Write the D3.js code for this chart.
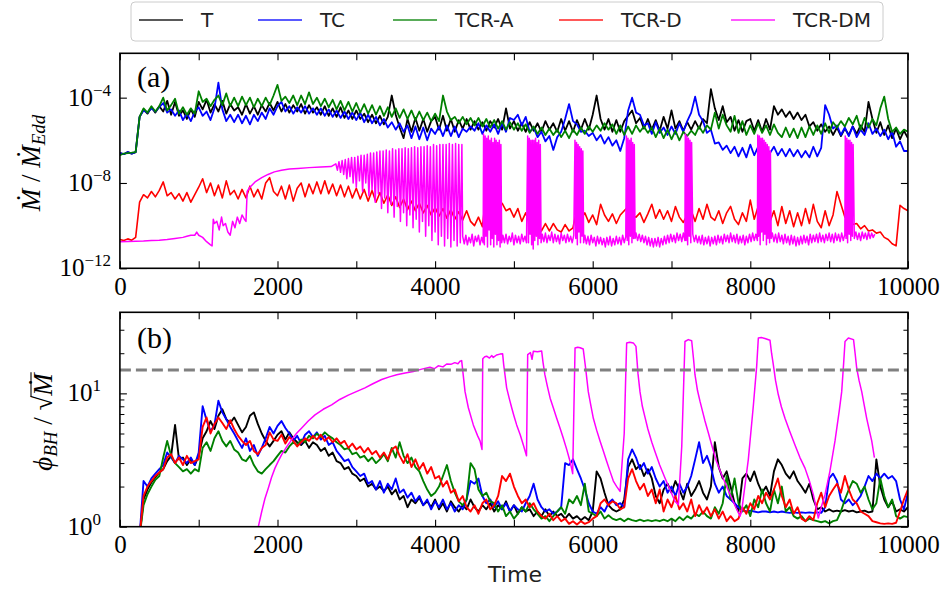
<!DOCTYPE html>
<html>
<head>
<meta charset="utf-8">
<script src="https://cdn.jsdelivr.net/npm/d3@7"></script>
<style>
  body { margin: 0; background: #fff; }
</style>
</head>
<body>
<div id="chart"></div>
<script>
// ---------------- data ----------------
// series names / colours
var names  = ["T", "TC", "TCR-A", "TCR-D", "TCR-DM"];
var colors = ["#000000", "#0000ff", "#008000", "#ff0000", "#ff00ff"];

// sampling step of the uniform series (time units)
var step = 50;

// panel (a): log10 of Mdot/Mdot_Edd, one value every 50 time units, t = 0..10000
var mdotT = [
 -6.6,-6.65,-6.55,-6.62,-6.55,-4.9,-4.55,-4.75,-4.45,-4.7,
 -4.4,-4.65,-4.15,-4.8,-4.2,-4.85,-4.6,-5.0,-4.55,-4.9,
 -4.2,-4.55,-4.1,-4.7,-4.3,-4.65,-4.15,-4.75,-4.3,-4.6,
 -4.45,-4.8,-4.3,-4.75,-4.4,-4.8,-4.35,-4.65,-4.25,-4.6,
 -4.2,-4.65,-4.3,-4.7,-4.35,-4.65,-4.3,-4.75,-4.35,-4.7,
 -4.45,-4.8,-4.4,-4.85,-4.5,-4.9,-4.45,-4.95,-4.6,-5.0,
 -4.6,-5.0,-4.75,-5.15,-4.8,-5.2,-4.85,-5.25,-4.9,-3.9,
 -4.8,-5.4,-5.9,-5.0,-5.6,-4.95,-5.55,-5.0,-5.6,-5.1,
 -4.9,-5.5,-4.85,-5.55,-5.0,-5.6,-5.05,-5.45,-5.0,-5.5,
 -5.1,-5.5,-5.15,-5.55,-5.1,-5.4,-5.0,-5.5,-4.5,-5.45,
 -5.1,-5.55,-5.2,-5.6,-5.15,-5.55,-5.2,-5.6,-5.1,-5.5,
 -5.2,-5.6,-5.0,-5.55,-5.1,-5.6,-5.05,-5.5,-5.0,-5.5,
 -4.8,-3.9,-5.0,-5.5,-5.0,-5.6,-5.05,-5.6,-5.1,-4.85,
 -4.6,-5.2,-4.95,-5.45,-5.0,-5.5,-5.05,-5.55,-4.9,-5.45,
 -4.6,-5.45,-5.1,-5.55,-5.15,-5.5,-5.1,-5.45,-5.0,-5.2,
 -3.6,-4.5,-5.05,-4.4,-5.15,-4.9,-5.55,-5.05,-5.6,-5.1,
 -5.0,-5.55,-5.05,-5.6,-5.0,-5.5,-4.4,-4.8,-4.55,-4.9,
 -4.65,-5.0,-4.7,-5.05,-4.8,-5.35,-5.15,-5.55,-5.25,-5.6,
 -5.35,-5.75,-5.4,-5.8,-5.45,-5.75,-5.35,-5.7,-5.3,-5.6,
 -4.2,-5.0,-5.65,-5.15,-5.75,-5.3,-5.9,-5.45,-5.95,-5.55,
 -5.9];
var mdotTC = [
 -6.6,-6.65,-6.55,-6.62,-6.55,-4.9,-4.6,-4.7,-4.5,-4.65,
 -4.45,-4.25,-4.7,-4.55,-4.85,-4.6,-5.05,-4.75,-5.1,-4.65,
 -4.45,-4.85,-4.65,-5.05,-4.5,-3.3,-4.55,-5.1,-4.8,-5.15,
 -4.8,-5.2,-4.85,-5.25,-4.8,-5.1,-4.7,-5.0,-4.5,-4.8,
 -4.4,-4.2,-4.65,-4.4,-4.75,-4.45,-4.7,-4.4,-4.75,-4.5,
 -4.8,-4.5,-4.85,-4.55,-4.9,-4.6,-4.95,-4.65,-5.0,-4.7,
 -5.05,-4.7,-5.15,-4.8,-5.2,-4.9,-5.3,-5.0,-5.4,-5.15,
 -5.5,-5.2,-5.6,-5.3,-5.9,-5.35,-5.95,-5.4,-6.0,-5.45,
 -5.7,-5.35,-5.8,-5.3,-5.8,-5.35,-5.85,-5.45,-5.6,-5.35,
 -5.55,-5.2,-5.7,-5.3,-5.6,-5.25,-5.7,-5.2,-5.6,-4.95,
 -5.05,-4.8,-5.3,-4.9,-5.6,-5.4,-5.85,-5.6,-6.05,-5.8,
 -6.45,-5.85,-5.6,-5.0,-4.3,-5.1,-5.25,-5.6,-5.55,-5.8,
 -5.65,-6.0,-5.75,-6.15,-5.85,-6.25,-6.0,-6.5,-5.9,-4.6,
 -4.0,-4.7,-4.8,-5.3,-5.2,-5.7,-5.15,-5.65,-5.4,-5.75,
 -5.35,-5.7,-5.2,-5.6,-5.1,-4.7,-3.95,-4.8,-5.1,-5.65,
 -5.5,-6.15,-6.1,-6.45,-6.25,-6.6,-6.3,-6.75,-6.35,-6.8,
 -6.2,-6.7,-6.3,-6.8,-6.35,-6.6,-6.3,-6.7,-6.4,-6.75,
 -6.4,-6.75,-6.45,-6.8,-6.5,-6.8,-6.3,-6.75,-6.35,-4.35,
 -4.8,-5.45,-5.3,-5.75,-5.4,-5.8,-5.35,-5.85,-5.5,-5.75,
 -5.2,-5.7,-5.45,-5.8,-5.5,-5.95,-5.6,-6.3,-6.05,-6.5,
 -6.5];
var mdotTCRA = [
 -6.7,-6.62,-6.6,-6.58,-6.55,-4.9,-4.5,-4.7,-4.4,-4.65,
 -4.4,-4.0,-4.6,-4.35,-4.05,-4.75,-4.45,-4.8,-4.5,-4.75,
 -3.7,-4.2,-4.05,-4.4,-4.1,-3.9,-4.35,-3.8,-4.4,-4.0,
 -4.4,-3.95,-4.35,-4.0,-4.45,-4.05,-4.4,-4.0,-4.35,-3.9,
 -3.4,-4.15,-3.95,-4.25,-3.9,-4.35,-3.9,-4.3,-3.75,-4.3,
 -4.0,-4.4,-4.05,-4.45,-4.1,-4.55,-4.15,-4.6,-4.2,-4.65,
 -4.25,-4.7,-4.3,-4.75,-4.35,-4.8,-4.4,-4.85,-4.45,-4.9,
 -4.5,-4.95,-4.55,-5.0,-4.6,-5.05,-4.65,-5.05,-4.7,-5.1,
 -4.75,-5.1,-3.9,-4.65,-5.05,-4.9,-5.2,-4.9,-5.25,-4.95,
 -5.3,-4.95,-5.35,-5.0,-5.4,-5.05,-5.45,-5.1,-5.5,-5.15,
 -5.5,-5.2,-5.55,-5.25,-5.65,-5.35,-5.7,-5.4,-5.75,-5.45,
 -5.75,-5.5,-5.85,-5.55,-5.9,-5.5,-5.75,-5.4,-5.7,-5.35,
 -5.6,-5.3,-5.55,-5.2,-5.5,-5.25,-5.7,-5.3,-5.75,-5.35,
 -5.7,-5.3,-5.6,-5.35,-5.65,-5.4,-5.85,-5.45,-5.9,-5.5,
 -5.95,-5.55,-6.0,-5.6,-5.8,-5.55,-5.75,-5.35,-5.65,-5.3,
 -5.5,-4.7,-5.45,-4.8,-5.3,-5.6,-4.85,-5.65,-5.1,-5.75,
 -5.3,-5.7,-5.2,-5.65,-5.3,-5.75,-5.25,-5.65,-5.85,-5.4,
 -5.85,-5.45,-5.9,-5.4,-5.85,-5.35,-5.75,-5.3,-5.7,-5.2,
 -5.65,-5.15,-5.4,-5.1,-5.35,-4.95,-5.25,-4.85,-5.5,-4.95,
 -5.4,-5.0,-5.3,-4.5,-3.95,-5.0,-5.6,-5.4,-5.7,-5.5,
 -5.6];
var mdotTCRD = [
 -10.65,-10.7,-10.62,-10.68,-10.55,-8.9,-8.55,-8.7,-8.4,-8.65,
 -8.35,-7.95,-8.6,-8.45,-8.75,-8.5,-8.85,-8.45,-8.9,-8.55,
 -8.2,-7.8,-8.45,-8.0,-8.6,-8.1,-8.7,-7.9,-8.55,-8.35,
 -8.75,-8.3,-8.7,-8.15,-8.65,-8.3,-8.75,-8.0,-7.75,-8.4,
 -8.6,-8.15,-8.75,-8.1,-8.85,-8.25,-8.0,-8.65,-8.05,-8.5,
 -7.95,-8.5,-7.9,-8.5,-8.05,-8.6,-8.1,-8.65,-8.15,-8.7,
 -8.25,-8.75,-8.3,-8.85,-8.35,-8.9,-8.45,-8.95,-8.55,-9.05,
 -8.65,-9.15,-8.75,-9.25,-8.85,-9.3,-8.95,-9.4,-9.05,-9.5,
 -9.15,-9.55,-9.2,-9.65,-9.25,-9.7,-9.35,-9.75,-9.3,-9.8,
 -10.0,-9.6,-10.05,-8.45,-8.95,-8.8,-9.1,-8.95,-9.3,-9.2,
 -9.6,-9.2,-9.8,-9.4,-9.95,-10.15,-9.8,-10.25,-9.9,-10.25,
 -9.9,-10.2,-10.3,-9.95,-10.25,-10.1,-9.2,-9.7,-9.4,-9.85,
 -9.5,-9.95,-9.0,-9.5,-9.8,-9.45,-9.9,-9.5,-9.3,-9.1,
 -9.55,-9.6,-9.4,-9.85,-9.45,-9.0,-9.65,-9.25,-9.7,-9.3,
 -9.8,-9.1,-9.6,-9.85,-9.5,-9.3,-9.8,-9.2,-9.7,-9.0,
 -9.6,-9.75,-9.3,-9.9,-9.4,-9.1,-9.7,-9.95,-9.4,-9.8,
 -8.8,-9.7,-9.1,-9.9,-9.2,-9.8,-9.3,-10.0,-9.1,-9.9,
 -9.3,-10.05,-9.4,-10.0,-9.2,-9.9,-9.0,-9.8,-10.1,-9.3,
 -10.0,-9.5,-8.4,-9.0,-9.6,-9.65,-9.95,-9.9,-10.15,-10.0,
 -10.25,-10.2,-10.35,-10.3,-10.55,-10.65,-10.85,-10.95,-9.05,-9.2,
 -9.3];
// TCR-DM, panel (a), slow early part: [time, log10 Mdot]
var mdotTCRDMearly = [
 [0,-10.75],[100,-10.74],[200,-10.73],[300,-10.72],[400,-10.7],[500,-10.68],[600,-10.65],
 [700,-10.6],[800,-10.55],[850,-10.5],[900,-10.45],[950,-10.45],[975,-10.3],[1000,-10.45],
 [1050,-10.55],[1100,-10.75],[1150,-10.9],[1170,-10.95],[1185,-9.7],[1200,-9.9],[1230,-9.8],
 [1260,-10.2],[1290,-9.6],[1310,-10.0],[1340,-9.9],[1370,-10.3],[1400,-10.45],[1430,-9.8],
 [1460,-10.1],[1490,-9.6],[1520,-9.9],[1550,-9.5],[1580,-9.7],[1600,-9.8],[1615,-8.4],
 [1650,-8.2],[1715,-7.95],[1800,-7.75],[1880,-7.6],[1960,-7.48],[2050,-7.4],[2150,-7.35],
 [2260,-7.32],[2400,-7.28],[2550,-7.25],[2680,-7.23]];
// TCR-DM, panel (a), fast part: pieces of [start time, time step, log10 values]
var mdotTCRDMpieces = [
 [2740, 20, [
  -7.1,-7.4,-7.0,-7.5,-6.95,-7.6,-6.9,-7.8,-6.85,-7.7,
  -6.8,-8.0,-6.8,-8.2,-6.75,-7.9,-6.7,-8.4,-6.7,-8.0,
  -6.65,-8.6,-6.6,-8.3,-6.6,-8.9,-6.55,-8.5,-6.5,-9.2,
  -6.5,-8.7,-6.45,-9.4,-6.5,-9.0,-6.4,-9.6,-6.45,-9.1,
  -6.4,-9.8,-6.4,-9.4,-6.35,-10.0,-6.4,-9.5,-6.35,-10.1,
  -6.3,-9.7,-6.35,-10.3,-6.3,-9.8,-6.3,-10.5,-6.25,-10.0,
  -6.3,-10.7,-6.2,-10.3,-6.25,-10.9,-6.2,-10.5,-6.2,-10.95,
  -6.2,-10.6,-6.15,-11.0,-6.2,-10.7,-6.15,-10.95,-6.2,-10.8,
  -6.2]],
 [4350, 20, [-10.5,-10.85,-10.45,-10.9,-10.55,-10.8,-10.4,-10.95,-10.5,-10.75,-10.45,-10.9,-10.55,-10.8]],
 [4615, 10, [-5.7,-10.9,-5.8,-10.5,-5.9,-11.0,-5.8,-10.2,-6.0,-10.9,-5.9,-10.6,-6.1,-11.0,-5.9,-10.4,
             -6.0,-10.9,-6.1,-10.7,-6.0,-11.0,-6.2,-10.8]],
 [4860, 20, [-10.45,-10.8,-10.4,-10.85,-10.5,-10.75,-10.35,-10.9,-10.45,-10.8,-10.5,-10.85,-10.4,-10.75,
             -10.5,-10.8]],
 [5175, 10, [-5.8,-10.8,-5.9,-10.4,-6.0,-10.9,-6.0,-11.1,-6.0,-10.7,-5.9,-10.5,-6.1,-10.9,-6.0,-10.6,
             -6.2,-10.8]],
 [5360, 20, [-10.4,-10.75,-10.35,-10.8,-10.45,-10.7,-10.3,-10.8,-10.4,-10.75,-10.45,-10.85,-10.35,-10.7,
             -10.45,-10.8,-10.4,-10.75,-10.5,-10.8,-10.45]],
 [5775, 10, [-6.0,-10.6,-6.1,-10.9,-6.2,-10.3,-6.3,-10.8,-6.4,-10.5,-6.5,-10.8]],
 [5900, 20, [-10.45,-10.85,-10.5,-10.9,-10.45,-10.8,-10.55,-10.95,-10.5,-10.85,-10.55,-10.9,-10.6,-11.0,
             -10.55,-10.9,-10.5,-10.95,-10.6,-10.9,-10.5,-10.85,-10.55,-10.9,-10.45,-10.8,-10.5]],
 [6428, 10, [-5.8,-10.7,-5.9,-10.9,-6.0,-10.5,-5.9,-10.8,-6.1,-10.6,-6.2,-10.6]],
 [6550, 20, [-10.35,-10.7,-10.4,-10.75,-10.45,-10.8,-10.5,-10.9,-10.55,-10.95,-10.6,-11.0,-10.6,-10.95,
             -10.55,-11.0,-10.6,-10.9,-10.5,-10.85,-10.45,-10.8,-10.4,-10.75,-10.45,-10.8,-10.35,-10.7,
             -10.4,-10.75,-10.35,-10.7]],
 [7175, 10, [-5.7,-10.7,-5.8,-10.9,-5.9,-10.5,-6.0,-10.8,-6.1]],
 [7270, 20, [-10.4,-10.75,-10.45,-10.8,-10.5,-10.85,-10.45,-10.9,-10.55,-10.85,-10.5,-10.95,-10.55,-10.85,
             -10.5,-10.9,-10.45,-10.8,-10.5,-10.85,-10.4,-10.75,-10.45,-10.8,-10.35,-10.75,-10.45,-10.8,
             -10.4,-10.85,-10.5,-10.8,-10.45,-10.9,-10.5,-10.8,-10.4,-10.75,-10.35,-10.7,-10.4,-10.7]],
 [8095, 10, [-5.75,-10.5,-5.8,-10.9,-5.9,-10.3,-5.9,-10.7,-6.0,-10.4,-6.1,-10.9,-6.2,-10.6,-6.3,-10.8,
             -6.5,-10.6]],
 [8280, 20, [-10.35,-10.75,-10.4,-10.8,-10.35,-10.75,-10.45,-10.85,-10.4,-10.8,
             -10.5,-10.9,-10.45,-10.85,-10.5,-10.95,-10.55,-10.9,-10.5,-10.85,
             -10.45,-10.8,-10.5,-10.9,-10.4,-10.8,-10.45,-10.75,-10.4,-10.8,
             -10.35,-10.75,-10.45,-10.8,-10.4,-10.7,-10.35,-10.75,-10.4,-10.8,
             -10.35,-10.7,-10.4,-10.75,-10.35,-10.7,-10.4]],
 [9205, 10, [-5.8,-10.6,-5.9,-10.8,-6.0,-10.4,-6.0,-10.7,-6.1,-10.5,-6.2]],
 [9320, 20, [-10.6,-10.3,-10.65,-10.35,-10.7,-10.3,-10.6,-10.35,-10.65,-10.3,-10.6,-10.35,-10.55,-10.4]]
];

// panel (b): phi_BH / sqrt(Mdot), one value every 50 time units, t = 0..10000
var phiT = [
 0.5,0.5,0.5,0.5,0.5,0.85,1.6,1.9,2.15,2.35,
 2.55,2.7,3.1,3.4,5.8,3.2,3.3,2.9,3.2,2.9,
 3.4,4.6,5.2,6.2,5.4,6.8,7.6,6.4,6.0,6.6,
 5.8,5.1,5.6,6.8,7.2,5.9,5.0,4.4,4.0,4.4,
 4.9,5.2,4.5,5.1,4.6,4.3,4.1,4.4,3.9,4.3,
 4.1,3.7,3.9,3.4,3.6,3.1,3.0,2.7,2.8,2.5,
 2.4,2.2,2.3,2.0,2.1,1.9,2.0,1.85,2.0,1.75,
 1.9,1.6,1.7,1.4,1.6,1.5,1.65,1.45,1.55,1.4,
 1.6,1.35,1.5,1.3,1.55,1.4,1.3,1.45,1.35,1.6,
 1.4,1.3,1.45,1.35,1.5,1.3,1.45,1.35,1.55,1.3,
 1.45,1.25,1.4,1.3,1.35,1.2,1.3,1.2,1.35,1.2,
 1.3,1.2,1.25,1.15,1.25,1.15,1.2,1.12,1.18,1.12,
 1.3,2.6,2.3,1.8,1.45,1.35,1.3,1.35,1.6,2.8,
 3.2,2.7,2.9,2.4,2.7,2.3,1.7,1.5,1.9,2.1,
 1.8,2.2,1.9,1.6,2.1,1.7,1.9,2.2,1.8,1.6,
 2.0,4.3,2.8,2.3,2.6,2.0,1.5,1.3,2.3,2.5,
 2.2,2.6,2.1,1.8,2.0,1.7,2.6,3.2,2.9,2.5,
 2.3,2.6,2.2,2.0,1.8,2.1,1.6,1.35,1.4,1.3,
 1.35,1.3,1.32,1.3,1.33,1.3,1.32,1.28,1.3,1.32,
 1.28,1.3,3.2,2.0,1.6,1.4,1.55,1.3,1.35,1.3,
 1.4];
var phiTC = [
 0.5,0.5,0.5,0.5,0.5,0.85,2.2,2.0,2.3,2.5,
 2.7,2.9,3.6,3.3,3.0,3.4,3.2,3.0,3.3,2.9,
 3.6,8.0,6.3,5.2,5.8,8.8,7.2,6.4,5.6,5.0,
 4.4,3.9,4.6,3.7,4.1,3.4,3.9,4.6,5.6,5.0,
 5.7,6.2,5.5,5.0,4.4,4.8,4.2,4.9,5.2,4.7,
 5.1,4.5,4.8,4.1,4.3,3.7,3.4,3.1,3.2,2.8,
 2.6,2.4,2.5,2.1,2.2,1.9,2.2,1.8,2.1,1.9,
 2.3,1.8,1.9,1.65,1.8,1.55,1.7,1.45,1.6,1.35,
 1.55,1.4,1.6,1.35,1.5,1.3,1.45,1.35,1.6,2.2,
 2.1,2.3,1.7,1.5,1.6,1.4,1.55,1.35,1.5,1.3,
 1.45,1.35,1.3,1.5,1.7,2.1,1.6,1.4,1.3,1.35,
 1.25,1.3,1.4,3.0,2.9,3.2,2.7,2.3,1.9,1.5,
 1.3,1.25,1.4,1.3,1.5,1.6,1.45,1.5,1.4,3.2,
 3.8,3.3,2.7,3.0,2.5,2.8,2.3,2.0,2.2,1.8,
 2.0,1.7,2.1,1.8,2.0,2.4,3.2,4.3,3.0,3.4,
 2.8,2.1,1.8,2.0,1.7,1.6,1.5,1.4,1.33,1.3,
 1.32,1.3,1.28,1.3,1.3,1.28,1.3,1.28,1.3,1.28,
 1.27,1.28,1.27,1.28,1.27,1.28,1.27,1.28,1.27,1.4,
 2.3,2.5,2.2,1.6,1.5,1.6,1.45,1.55,1.7,2.0,
 2.4,2.2,2.5,2.3,2.5,2.3,2.4,2.2,1.6,1.35,
 1.8];
var phiTCRA = [
 0.5,0.5,0.5,0.5,0.5,0.85,1.45,1.75,2.0,2.25,
 2.4,3.3,4.4,3.4,3.0,2.8,2.6,2.7,2.5,2.7,
 2.6,3.9,4.3,3.7,4.6,5.2,4.4,4.0,4.4,3.8,
 3.6,3.2,3.1,3.4,2.9,2.6,2.5,2.7,2.9,3.1,
 3.4,3.7,3.6,4.0,4.3,4.1,4.5,4.3,4.8,4.6,
 5.0,4.7,5.1,4.8,4.6,4.3,4.1,3.8,3.9,3.5,
 3.6,3.3,3.4,3.1,3.3,3.0,3.2,3.5,3.1,3.9,
 3.3,4.3,3.4,3.0,3.3,2.8,2.6,2.2,1.9,1.7,
 1.8,2.0,2.4,2.9,2.2,1.8,1.55,1.45,1.6,3.0,
 2.7,1.9,1.7,1.8,1.55,1.5,1.3,1.45,1.2,1.3,
 1.15,1.25,1.4,1.3,1.5,1.35,1.25,1.15,1.2,1.1,
 1.2,1.3,1.4,1.25,1.6,1.5,1.7,1.45,2.1,1.3,
 1.25,1.2,1.3,1.15,1.22,1.15,1.12,1.15,1.1,1.15,
 1.12,1.1,1.13,1.1,1.12,1.1,1.12,1.1,1.13,1.1,
 1.15,1.1,1.18,1.12,1.2,1.15,1.25,1.2,1.3,1.2,
 1.15,1.4,1.25,1.5,2.4,1.6,2.3,1.5,1.3,1.45,
 1.2,1.6,1.4,1.9,1.5,1.3,1.9,1.5,2.0,1.3,
 1.4,1.2,1.15,1.2,1.1,1.15,1.12,1.1,1.08,1.1,
 1.06,1.1,1.12,1.3,1.6,1.9,2.2,2.1,1.8,2.0,
 1.6,1.35,1.5,2.3,1.7,1.4,1.6,1.2,1.15,1.2,
 1.18];
var phiTCRD = [
 0.5,0.5,0.5,0.5,0.5,0.85,1.7,2.0,2.2,2.4,
 2.55,2.7,3.3,3.5,3.0,3.3,2.9,3.4,3.0,3.1,
 3.2,5.6,6.6,5.0,5.9,6.6,6.0,5.4,6.3,5.4,
 4.8,4.4,4.1,4.4,3.7,3.5,3.9,4.1,5.1,4.5,
 4.4,4.9,4.2,4.7,4.4,4.0,4.3,4.6,4.4,4.8,
 4.5,4.9,4.4,4.7,4.3,4.6,4.2,4.4,3.9,4.2,
 3.8,4.0,3.6,3.9,3.5,3.7,3.3,3.6,3.2,3.8,
 4.0,3.4,3.0,3.5,2.8,3.2,2.7,3.0,2.5,2.8,
 2.3,2.4,2.0,2.2,1.8,1.9,1.55,1.7,1.4,1.3,
 1.45,1.25,1.5,1.6,1.35,1.45,1.7,2.4,2.2,2.5,
 2.0,1.7,1.5,1.6,1.4,1.5,1.3,1.2,1.15,1.25,
 1.12,1.2,1.1,1.15,1.05,1.1,1.04,1.1,1.05,1.08,
 1.15,1.2,1.5,1.6,1.45,1.55,1.5,1.35,1.4,2.3,
 2.7,2.2,1.9,2.1,1.7,1.9,1.5,1.9,1.3,1.6,
 1.4,1.7,1.35,1.5,1.3,1.6,1.2,1.45,1.25,1.4,
 1.2,1.35,1.15,1.3,1.1,1.2,1.1,1.15,1.4,1.25,
 1.5,1.35,1.7,1.5,1.8,1.6,1.9,2.3,1.7,1.4,
 1.6,1.25,1.4,1.15,1.1,1.2,1.12,1.5,1.8,1.4,
 1.7,1.9,2.1,1.8,2.4,1.9,1.6,1.5,1.3,1.25,
 1.2,1.1,1.08,1.06,1.05,1.06,1.05,1.07,1.3,1.6,
 1.9];
// TCR-DM, panel (b): [time, phi]
var phiTCRDM = [
 [1757,1.0],[1800,1.3],[1840,1.62],[1884,1.95],[1925,2.35],[1968,2.75],[2010,3.1],[2053,3.47],
 [2120,4.0],[2180,4.5],[2240,5.0],[2307,5.5],[2390,6.2],[2476,6.9],[2580,7.6],[2687,8.2],
 [2790,9.0],[2899,9.7],[3000,10.3],[3110,11.0],[3210,11.8],[3322,12.7],[3420,13.3],[3513,13.8],
 [3620,14.2],[3724,14.6],[3830,15.2],[3935,15.7],[3990,15.3],[4040,16.1],[4100,15.8],[4147,16.6],
 [4200,16.5],[4250,17.0],[4290,16.7],[4316,17.4],[4337,17.6],[4380,10.3],[4422,7.8],[4485,5.8],
 [4540,4.8],[4570,4.4],[4595,3.8],[4605,18.2],[4630,18.8],[4654,19.0],[4690,18.4],[4720,19.2],
 [4738,18.6],[4780,19.4],[4823,19.7],[4857,19.8],[4870,16.5],[4908,11.0],[4940,9.2],[4972,7.8],
 [5000,6.8],[5035,5.8],[5080,4.9],[5120,4.1],[5160,3.4],[5175,19.5],[5210,20.2],[5230,18.0],
 [5247,20.7],[5300,20.5],[5352,20.8],[5370,17.0],[5393,13.8],[5425,11.3],[5460,9.2],[5500,7.8],
 [5543,6.5],[5585,5.5],[5627,4.6],[5670,3.8],[5712,3.1],[5746,2.5],[5776,21.9],[5810,22.2],
 [5840,22.0],[5880,21.5],[5910,15.5],[5944,10.3],[5975,8.2],[6008,6.5],[6050,5.3],[6093,4.4],
 [6135,3.7],[6177,3.1],[6220,2.6],[6262,2.2],[6305,2.0],[6347,1.84],[6400,5.0],[6420,14.0],
 [6431,23.9],[6470,24.2],[6515,23.9],[6549,22.5],[6575,14.0],[6600,10.3],[6630,8.0],[6664,6.6],
 [6700,5.4],[6750,4.3],[6790,3.67],[6850,2.9],[6917,2.32],[6980,1.9],[7044,1.55],[7087,1.46],
 [7130,4.0],[7155,12.0],[7171,24.5],[7213,25.3],[7256,24.8],[7280,18.0],[7298,13.8],[7330,10.5],
 [7362,8.7],[7395,7.3],[7425,6.2],[7470,5.0],[7510,4.1],[7570,3.1],[7637,2.45],[7700,2.0],
 [7763,1.64],[7820,1.38],[7869,1.2],[7890,1.3],[7975,3.2],[8038,8.0],[8081,16.0],[8102,26.0],
 [8140,26.2],[8186,25.8],[8250,25.0],[8270,20.0],[8292,16.4],[8320,12.5],[8355,9.8],[8395,7.9],
 [8440,6.5],[8500,5.2],[8567,4.1],[8630,3.3],[8694,2.75],[8750,2.2],[8800,1.74],[8835,1.4],
 [8863,1.16],[8900,1.4],[8948,1.74],[9010,2.6],[9075,4.4],[9130,7.5],[9160,10.3],[9185,17.0],
 [9202,24.5],[9245,26.0],[9310,25.3],[9330,20.0],[9350,15.5],[9380,12.5],[9414,10.3],[9445,8.2],
 [9477,6.5],[9510,5.3],[9541,4.4],[9575,3.3]];

// reference level in panel (b)
var phiRef = 15;

// ticks
var timeTicks = [0,1000,2000,3000,4000,5000,6000,7000,8000,9000,10000];
var mdotTicks = [1e-12, 1e-8, 1e-4];
var phiMajor = [1, 10];
var phiMinor = [2,3,4,5,6,7,8,9,20,30];

// ---------------- drawing ----------------
var SERIF = "Liberation Serif";
var SANS = "DejaVu Sans";

var svg = d3.select("#chart").append("svg")
    .attr("width", 943)
    .attr("height", 591);

var left = 119.9, right = 907.9;
var x = d3.scaleLinear().domain([0, 10000]).range([left, right]);
var yA = d3.scaleLog().domain([1e-12, Math.pow(10, -1.92)]).range([268.3, 53.3]);
var yB = d3.scaleLog().domain([1, 40.55]).range([526.7, 312.3]);

// uniform series -> [t, value]
function uniformA(arr){ return arr.map(function(e, i){ return [i*step, Math.pow(10, e)]; }); }
function uniformB(arr){ return arr.map(function(v, i){ return [i*step, v]; }); }

var dmA = mdotTCRDMearly.map(function(d){ return [d[0], Math.pow(10, d[1])]; });
mdotTCRDMpieces.forEach(function(p){
  p[2].forEach(function(e, i){ dmA.push([p[0] + i*p[1], Math.pow(10, e)]); });
});

var seriesA = [uniformA(mdotT), uniformA(mdotTC), uniformA(mdotTCRA), uniformA(mdotTCRD), dmA];
var seriesB = [uniformB(phiT), uniformB(phiTC), uniformB(phiTCRA), uniformB(phiTCRD), phiTCRDM];

function panel(id, y, series, lineWidths){
  var r = y.range();
  var top = r[1], bottom = r[0];
  svg.append("clipPath").attr("id", id)
    .append("rect")
      .attr("x", left).attr("y", top)
      .attr("width", right - left).attr("height", bottom - top);

  var g = svg.append("g").attr("clip-path", "url(#" + id + ")");
  var line = d3.line()
      .x(function(d){ return x(d[0]); })
      .y(function(d){ return y(d[1]); });

  series.forEach(function(s, i){
    g.append("path")
      .datum(s)
      .attr("d", line)
      .attr("fill", "none")
      .attr("stroke", colors[i])
      .attr("stroke-width", lineWidths[i])
      .attr("stroke-linejoin", "round");
  });
  return g;
}

var gA = panel("clipA", yA, seriesA, [1.8, 1.8, 1.8, 1.6, 1.5]);
var gB = panel("clipB", yB, seriesB, [1.9, 1.9, 1.9, 1.9, 1.5]);

// dashed reference line in (b)
gB.append("line")
  .attr("x1", x(0)).attr("x2", x(10000))
  .attr("y1", yB(phiRef)).attr("y2", yB(phiRef))
  .attr("stroke", "#808080")
  .attr("stroke-width", 3)
  .attr("stroke-dasharray", "11,5");

// axes and frame
function frame(y, yTicksMajor, yTicksMinor, labelBase){
  var r = y.range();
  var top = r[1], bottom = r[0];

  var xb = svg.append("g").attr("transform", "translate(0," + bottom + ")")
    .call(d3.axisBottom(x).tickValues(timeTicks).tickSizeInner(-7).tickSizeOuter(0)
      .tickPadding(9)
      .tickFormat(function(d){ return d % 2000 === 0 ? d : ""; }));
  var xt = svg.append("g").attr("transform", "translate(0," + top + ")")
    .call(d3.axisTop(x).tickValues(timeTicks).tickSizeInner(-7).tickSizeOuter(0).tickFormat(""));
  var yl = svg.append("g").attr("transform", "translate(" + left + ",0)")
    .call(d3.axisLeft(y).tickValues(yTicksMajor).tickSizeInner(-7).tickSizeOuter(0).tickFormat(""));
  var yr = svg.append("g").attr("transform", "translate(" + right + ",0)")
    .call(d3.axisRight(y).tickValues(yTicksMajor).tickSizeInner(-7).tickSizeOuter(0).tickFormat(""));
  [xb, xt, yl, yr].forEach(function(a){
    a.select(".domain").remove();
    a.selectAll("line").attr("stroke", "#000").attr("stroke-width", 1.1);
  });
  xb.selectAll("text")
    .style("font-family", SERIF)
    .style("font-size", "25px")
    .attr("fill", "#000");

  if (yTicksMinor.length){
    var yl2 = svg.append("g").attr("transform", "translate(" + left + ",0)")
      .call(d3.axisLeft(y).tickValues(yTicksMinor).tickSizeInner(-4.5).tickSizeOuter(0).tickFormat(""));
    var yr2 = svg.append("g").attr("transform", "translate(" + right + ",0)")
      .call(d3.axisRight(y).tickValues(yTicksMinor).tickSizeInner(-4.5).tickSizeOuter(0).tickFormat(""));
    [yl2, yr2].forEach(function(a){
      a.select(".domain").remove();
      a.selectAll("line").attr("stroke", "#000").attr("stroke-width", 1);
    });
  }

  // 10^n labels
  yTicksMajor.forEach(function(v){
    var t = svg.append("text")
      .attr("x", labelBase)
      .attr("y", y(v) + 8)
      .attr("text-anchor", "end")
      .style("font-family", SERIF)
      .style("font-size", "25px")
      .attr("fill", "#000");
    t.append("tspan").text("10");
    var ex = Math.round(Math.log10(v));
    t.append("tspan")
      .attr("dy", -10)
      .style("font-size", "17px")
      .text(ex < 0 ? "\u2212" + (-ex) : ex);
  });

  svg.append("rect")
    .attr("x", left).attr("y", top)
    .attr("width", right - left).attr("height", bottom - top)
    .attr("fill", "none")
    .attr("stroke", "#000")
    .attr("stroke-width", 1.6);
}

frame(yA, mdotTicks, [], 111);
frame(yB, phiMajor, phiMinor, 101);

// panel letters
svg.append("text").attr("x", 137).attr("y", 87)
  .style("font-family", SERIF).style("font-size", "30px").text("(a)");
svg.append("text").attr("x", 137).attr("y", 348)
  .style("font-family", SERIF).style("font-size", "30px").text("(b)");

// y label (a):  Mdot / Mdot_Edd
var la = svg.append("text")
  .attr("transform", "translate(40,163) rotate(-90)")
  .attr("text-anchor", "middle")
  .style("font-family", SERIF)
  .style("font-size", "27px");
la.append("tspan").style("font-style", "italic").text("\u1E40");
la.append("tspan").text(" / ");
la.append("tspan").style("font-style", "italic").text("\u1E40");
la.append("tspan").style("font-style", "italic").style("font-size", "19px").attr("dy", 5).text("Edd");

// y label (b):  phi_BH / sqrt(Mdot)
var lb = svg.append("text")
  .attr("transform", "translate(52,422) rotate(-90)")
  .attr("text-anchor", "middle")
  .style("font-family", SERIF)
  .style("font-size", "27px");
lb.append("tspan").style("font-style", "italic").text("\u03D5");
lb.append("tspan").style("font-style", "italic").style("font-size", "19px").attr("dy", 5).text("BH");
lb.append("tspan").attr("dy", -5).text(" / \u221A");
lb.append("tspan").style("font-style", "italic").text("\u1E40");
var node = lb.node();
var n = node.getNumberOfChars();
var mBox = node.getExtentOfChar(n - 1);
var rBox = node.getExtentOfChar(n - 2);
svg.append("line")
  .attr("transform", "translate(52,422) rotate(-90)")
  .attr("x1", rBox.x + rBox.width - 1).attr("x2", mBox.x + mBox.width + 1)
  .attr("y1", rBox.y + 3).attr("y2", rBox.y + 3)
  .attr("stroke", "#000").attr("stroke-width", 1.1);

// x label
svg.append("text")
  .attr("x", 515).attr("y", 582)
  .attr("text-anchor", "middle")
  .style("font-family", SANS)
  .style("font-size", "22px")
  .attr("fill", "#222")
  .text("Time");

// legend
var legendX = [139, 258, 393, 559, 731];
svg.append("rect")
  .attr("x", 131).attr("y", 2)
  .attr("width", 752).attr("height", 39)
  .attr("rx", 4)
  .attr("fill", "#fff")
  .attr("stroke", "#cccccc")
  .attr("stroke-width", 1);
names.forEach(function(nm, i){
  svg.append("line")
    .attr("x1", legendX[i]).attr("x2", legendX[i] + 44)
    .attr("y1", 20).attr("y2", 20)
    .attr("stroke", colors[i])
    .attr("stroke-opacity", 0.65)
    .attr("stroke-width", 2);
  svg.append("text")
    .attr("x", legendX[i] + 62).attr("y", 27)
    .style("font-family", SANS)
    .style("font-size", "20px")
    .attr("fill", "#222")
    .text(nm);
});
</script>
</body>
</html>
